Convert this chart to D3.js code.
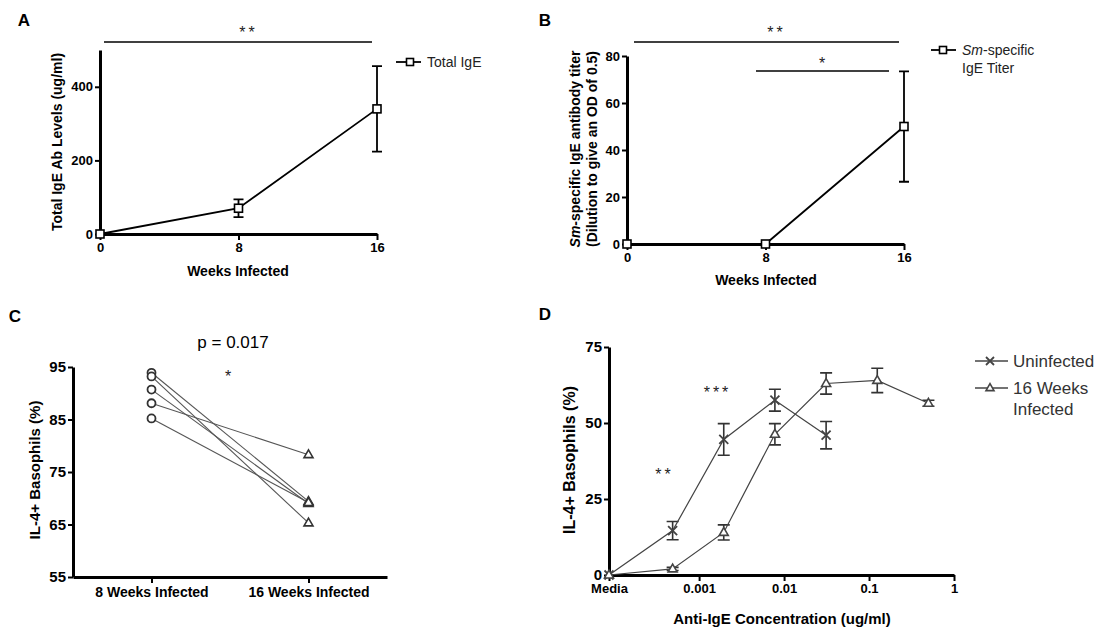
<!DOCTYPE html>
<html>
<head>
<meta charset="utf-8">
<script src="https://cdn.jsdelivr.net/npm/d3@7"></script>
<style>
  body { margin: 0; background: #fff; }
  svg { font-family: "Liberation Sans", Arial, sans-serif; }
  .axis path, .axis line { stroke: #000; }
  .axis path { stroke-width: 3px; }
  .axis line { stroke-width: 2px; }
  .axis text { font-weight: bold; fill: #000; }
  .sig { letter-spacing: 3px; }
</style>
</head>
<body>
<svg id="chart" width="1108" height="632"></svg>
<script>
// Panels A and B: weeks infected
var weeks = [0, 8, 16];
var totalIgE = [0, 70, 340];
var totalIgEErr = [0, 24, 116];
var smIgE = [0, 0, 50];
var smIgEErr = [0, 0, 23.5];

// Panel C: paired basophil values per animal
var groupsC = ['8 Weeks Infected', '16 Weeks Infected'];
var baso8 = [93.9, 93.2, 90.7, 88.1, 85.2];
var baso16 = [69.4, 65.3, 69.0, 78.3, 69.2];
var ticksC = [55, 65, 75, 85, 95];

// Panel D: anti-IgE dose response (0 = media)
var doses = [0, 0.000488, 0.00195, 0.0078, 0.03125, 0.125, 0.5];
var uninfected = [0, 14.6, 44.6, 57.5, 46.0];
var uninfectedErr = [0, 3, 5.2, 3.6, 4.5];
var infected16 = [0, 2, 14, 46.3, 63, 64, 56.5];
var infected16Err = [0, 0.5, 2.5, 3.5, 3.5, 4, 1];
var ticksD = [0.001, 0.01, 0.1, 1];
var MEDIA = 8.7e-5;  // where "Media" sits on the log axis

var svg = d3.select('#chart');

function label(g, x, y, txt, size, opts) {
  opts = opts || {};
  var t = g.append('text')
    .attr('x', x).attr('y', y)
    .attr('text-anchor', opts.anchor || 'middle')
    .attr('font-size', size)
    .attr('font-weight', opts.bold ? 'bold' : 'normal')
    .attr('fill', opts.fill || '#000');
  if (opts.cls) t.attr('class', opts.cls);
  if (opts.rotate) t.attr('transform', 'rotate(-90,' + x + ',' + y + ')');
  return t.text(txt);
}

function stars(x, y, txt) {
  return label(svg, x + 1.5, y, txt, 16, { cls: 'sig', fill: '#222' });
}

function axes(xAxis, yAxis, xY, yX, fx, fy) {
  svg.append('g').attr('class', 'axis').attr('transform', 'translate(0,' + xY + ')')
    .call(xAxis).selectAll('text').attr('font-size', fx);
  svg.append('g').attr('class', 'axis').attr('transform', 'translate(' + yX + ',0)')
    .call(yAxis).selectAll('text').attr('font-size', fy);
}

function errorBars(data, x, y, cap, color, width) {
  data.forEach(function(d) {
    if (!d.e) return;
    var cx = x(d.x), y1 = y(d.v - d.e), y2 = y(d.v + d.e);
    var path = 'M' + cx + ',' + y1 + 'V' + y2 +
      'M' + (cx - cap) + ',' + y1 + 'H' + (cx + cap) +
      'M' + (cx - cap) + ',' + y2 + 'H' + (cx + cap);
    svg.append('path').attr('d', path).attr('stroke', color)
      .attr('stroke-width', width).attr('fill', 'none');
  });
}

function square(g, cx, cy, s) {
  g.append('rect').attr('x', cx - s / 2).attr('y', cy - s / 2)
    .attr('width', s).attr('height', s)
    .attr('fill', '#fff').attr('stroke', '#000').attr('stroke-width', 1.6);
}

function triangle(g, cx, cy, s, color) {
  var h = s * 0.87;
  g.append('path')
    .attr('d', 'M' + cx + ',' + (cy - h * 0.62) + 'L' + (cx + s / 2) + ',' + (cy + h * 0.38) +
      'L' + (cx - s / 2) + ',' + (cy + h * 0.38) + 'Z')
    .attr('fill', '#fff').attr('stroke', color).attr('stroke-width', 1.6);
}

function cross(g, cx, cy, s, color) {
  g.append('path')
    .attr('d', 'M' + (cx - s / 2) + ',' + (cy - s / 2) + 'L' + (cx + s / 2) + ',' + (cy + s / 2) +
      'M' + (cx - s / 2) + ',' + (cy + s / 2) + 'L' + (cx + s / 2) + ',' + (cy - s / 2))
    .attr('stroke', color).attr('stroke-width', 1.8);
}

// ---------- Panel A ----------
(function() {
  var x = d3.scaleLinear().domain([0, 16]).range([100, 377]);
  var y = d3.scaleLinear().domain([0, 500]).range([234, 50]);
  axes(d3.axisBottom(x).tickValues(weeks).tickSize(6).tickSizeOuter(0).tickPadding(3),
       d3.axisLeft(y).tickValues([0, 200, 400]).tickSize(5).tickSizeOuter(0).tickPadding(2),
       234, 100, 13, 13);

  var data = weeks.map(function(w, i) { return { x: w, v: totalIgE[i], e: totalIgEErr[i] }; });
  errorBars(data, x, y, 5, '#000', 1.8);
  svg.append('path').datum(data)
    .attr('d', d3.line().x(function(d) { return x(d.x); }).y(function(d) { return y(d.v); }))
    .attr('fill', 'none').attr('stroke', '#000').attr('stroke-width', 1.8);
  data.forEach(function(d) { square(svg, x(d.x), y(d.v), 8); });

  // significance
  svg.append('line').attr('x1', 104).attr('x2', 372).attr('y1', 42).attr('y2', 42)
    .attr('stroke', '#000').attr('stroke-width', 1.5);
  stars(247, 38, '**');

  // legend
  svg.append('line').attr('x1', 396).attr('x2', 421).attr('y1', 62).attr('y2', 62)
    .attr('stroke', '#000').attr('stroke-width', 1.8);
  square(svg, 410, 62, 7);
  label(svg, 427, 67, 'Total IgE', 14, { anchor: 'start', fill: '#222' });

  label(svg, 238, 276, 'Weeks Infected', 14, { bold: true });
  label(svg, 62, 142, 'Total IgE Ab Levels (ug/ml)', 14, { bold: true, rotate: true });
  label(svg, 24, 26, 'A', 17, { bold: true });
})();

// ---------- Panel B ----------
(function() {
  var x = d3.scaleLinear().domain([0, 16]).range([627, 904]);
  var y = d3.scaleLinear().domain([0, 80]).range([244, 56]);
  axes(d3.axisBottom(x).tickValues(weeks).tickSize(6).tickSizeOuter(0).tickPadding(3),
       d3.axisLeft(y).tickValues([0, 20, 40, 60, 80]).tickSize(5).tickSizeOuter(0).tickPadding(2),
       244, 627, 13, 13);

  var data = weeks.map(function(w, i) { return { x: w, v: smIgE[i], e: smIgEErr[i] }; });
  errorBars(data, x, y, 5, '#000', 1.8);
  svg.append('path').datum(data)
    .attr('d', d3.line().x(function(d) { return x(d.x); }).y(function(d) { return y(d.v); }))
    .attr('fill', 'none').attr('stroke', '#000').attr('stroke-width', 1.8);
  data.forEach(function(d) { square(svg, x(d.x), y(d.v), 8); });

  svg.append('line').attr('x1', 634).attr('x2', 899).attr('y1', 42).attr('y2', 42)
    .attr('stroke', '#000').attr('stroke-width', 1.5);
  stars(775, 38, '**');
  svg.append('line').attr('x1', 756).attr('x2', 889).attr('y1', 71).attr('y2', 71)
    .attr('stroke', '#000').attr('stroke-width', 1.5);
  stars(822, 69, '*');

  svg.append('line').attr('x1', 931).attr('x2', 956).attr('y1', 50).attr('y2', 50)
    .attr('stroke', '#000').attr('stroke-width', 1.8);
  square(svg, 943, 50, 7);
  var t1 = label(svg, 962, 55, '', 14, { anchor: 'start', fill: '#222' });
  t1.append('tspan').attr('font-style', 'italic').text('Sm');
  t1.append('tspan').text('-specific');
  label(svg, 962, 73, 'IgE Titer', 14, { anchor: 'start', fill: '#222' });

  label(svg, 766, 285, 'Weeks Infected', 14, { bold: true });
  var t2 = label(svg, 580, 149, '', 14, { bold: true, rotate: true });
  t2.append('tspan').attr('font-style', 'italic').text('Sm');
  t2.append('tspan').text('-specific IgE antibody titer');
  label(svg, 597, 149, '(Dilution to give an OD of 0.5)', 14, { bold: true, rotate: true });
  label(svg, 545, 26, 'B', 17, { bold: true });
})();

// ---------- Panel C ----------
(function() {
  var x = d3.scalePoint().domain(groupsC).range([73, 387]).padding(0.5);
  var y = d3.scaleLinear().domain([55, 95]).range([577, 367]);
  axes(d3.axisBottom(x).tickSize(6).tickSizeOuter(0).tickPadding(4),
       d3.axisLeft(y).tickValues(ticksC).tickSize(5).tickSizeOuter(0).tickPadding(2),
       577, 73, 14, 15);

  var g = svg.append('g');
  baso8.forEach(function(v, i) {
    g.append('line')
      .attr('x1', x(groupsC[0])).attr('y1', y(v))
      .attr('x2', x(groupsC[1])).attr('y2', y(baso16[i]))
      .attr('stroke', '#555').attr('stroke-width', 1.1);
  });
  baso8.forEach(function(v) {
    g.append('circle').attr('cx', x(groupsC[0])).attr('cy', y(v)).attr('r', 4)
      .attr('fill', '#fff').attr('stroke', '#333').attr('stroke-width', 1.8);
  });
  baso16.forEach(function(v) { triangle(g, x(groupsC[1]), y(v), 9, '#333'); });

  label(svg, 233, 348, 'p = 0.017', 17);
  stars(228, 382, '*');
  label(svg, 40, 470, 'IL-4+ Basophils (%)', 15, { bold: true, rotate: true });
  label(svg, 15, 322, 'C', 17, { bold: true });
})();

// ---------- Panel D ----------
(function() {
  var x = d3.scaleLog().domain([MEDIA, 1]).range([609, 954]);
  var y = d3.scaleLinear().domain([0, 75]).range([575, 347]);
  var pos = function(d) { return x(d === 0 ? MEDIA : d); };
  axes(d3.axisBottom(x).tickValues([MEDIA].concat(ticksD)).tickSize(6).tickSizeOuter(0).tickPadding(3)
         .tickFormat(function(d) { return d === MEDIA ? 'Media' : String(d); }),
       d3.axisLeft(y).tickValues([0, 25, 50, 75]).tickSize(5).tickSizeOuter(0).tickPadding(2),
       575, 609, 13, 15);

  var series = [
    { vals: uninfected, err: uninfectedErr, mark: cross },
    { vals: infected16, err: infected16Err, mark: triangle }
  ];
  series.forEach(function(s) {
    var data = s.vals.map(function(v, i) { return { x: doses[i], v: v, e: s.err[i] }; });
    errorBars(data, pos, y, 6, '#333', 1.6);
    svg.append('path').datum(data)
      .attr('d', d3.line().x(function(d) { return pos(d.x); }).y(function(d) { return y(d.v); }))
      .attr('fill', 'none').attr('stroke', '#444').attr('stroke-width', 1.2);
    data.forEach(function(d) { s.mark(svg, pos(d.x), y(d.v), 9, '#444'); });
  });

  stars(663, 480, '**');
  stars(716, 398, '***');

  svg.append('line').attr('x1', 975).attr('x2', 1008).attr('y1', 361).attr('y2', 361)
    .attr('stroke', '#444').attr('stroke-width', 1.3);
  cross(svg, 990, 361, 8, '#444');
  label(svg, 1013, 367, 'Uninfected', 17, { anchor: 'start', fill: '#333' });
  svg.append('line').attr('x1', 975).attr('x2', 1008).attr('y1', 388).attr('y2', 388)
    .attr('stroke', '#444').attr('stroke-width', 1.3);
  triangle(svg, 990, 388, 8, '#444');
  label(svg, 1013, 394, '16 Weeks', 17, { anchor: 'start', fill: '#333' });
  label(svg, 1013, 415, 'Infected', 17, { anchor: 'start', fill: '#333' });

  label(svg, 782, 624, 'Anti-IgE Concentration (ug/ml)', 15, { bold: true });
  label(svg, 575, 460, 'IL-4+ Basophils (%)', 16, { bold: true, rotate: true });
  label(svg, 545, 320, 'D', 17, { bold: true });
})();
</script>
</body>
</html>
